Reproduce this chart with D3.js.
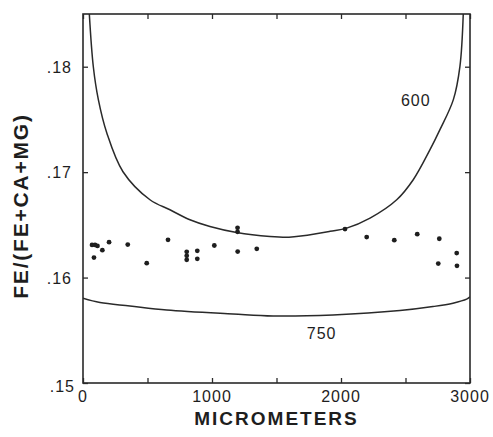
<!DOCTYPE html>
<html>

<head>
    <meta charset="UTF-8">
    <style>
        body { margin: 0; background: #fff; }
        text { font-family: "Liberation Sans", Arial, sans-serif; fill: #1e1e1e; }
    </style>
</head>

<body>
    <div id="my_dataviz"></div>

    <script src="https://d3js.org/d3.v7.min.js"></script>
    <script>
        // measured points (micrometers, FE/(FE+CA+MG))
        const pointX = [70, 93, 112, 150, 85, 202, 347, 494, 659, 804, 804, 804, 886, 886,
            1198, 1198, 1018, 1199, 1347, 2031, 2199, 2413, 2591, 2762, 2897, 2754, 2899];
        const pointY = [.1631, .1631, .1630, .1626, .1619, .16336, .16313, .16137, .16358, .16244, .16206, .16168, .16254, .16178,
            .16472, .16434, .16304, .16247, .16273, .16460, .16384, .16355, .16412, .16368, .16232, .16133, .16111];

        // model curve for 600
        const curve600X = [49, 80, 119, 184, 310, 519, 674, 829, 984, 1191, 1450, 1597, 1705, 1915, 2044, 2225, 2432, 2560, 2690, 2767, 2871, 2922, 2948];
        const curve600Y = [.1850, .1800, .17688, .17374, .17004, .16738, .16643, .16548, .16484, .16427, .16389, .16382, .16396, .16439, .16469, .16564, .16738, .16928, .17213, .17403, .17688, .18004, .1851];

        // model curve for 750
        const curve750X = [0, 132, 364, 649, 1163, 1473, 1938, 2457, 2713, 2868, 2974, 3000];
        const curve750Y = [.15804, .15763, .15731, .15693, .15655, .15636, .15646, .15687, .15725, .15757, .15795, .15817];

        const xTicks = [0, 500, 1000, 1500, 2000, 2500, 3000];
        const xTickLabels = ["0", "", "1000", "", "2000", "", "3000"];
        const yTicks = [.15, .16, .17, .18];
        const yTickLabels = [".15", ".16", ".17", ".18"];

        const margin = { top: 14, right: 23, bottom: 54, left: 83 },
            width = 493 - margin.left - margin.right,
            height = 437 - margin.top - margin.bottom;

        const svg = d3.select("#my_dataviz")
            .append("svg")
            .attr("width", 493)
            .attr("height", 437)
            .append("g")
            .attr("transform", "translate(" + margin.left + "," + margin.top + ")");

        const x = d3.scaleLinear().domain([0, 3000]).range([0, width]);
        const y = d3.scaleLinear().domain([.15, .185]).range([height, 0]);

        const ink = "#2a2a2a";

        svg.append("clipPath").attr("id", "plotclip")
            .append("rect").attr("width", width).attr("height", height);

        // inward ticks on all four sides
        const tickLen = 5;
        svg.append("g").attr("transform", "translate(0," + height + ")")
            .call(d3.axisTop(x).tickValues(xTicks).tickSize(tickLen).tickFormat(""));
        svg.append("g")
            .call(d3.axisBottom(x).tickValues(xTicks).tickSize(tickLen).tickFormat(""));
        svg.append("g")
            .call(d3.axisRight(y).tickValues(yTicks).tickSize(tickLen).tickFormat(""));
        svg.append("g").attr("transform", "translate(" + width + ",0)")
            .call(d3.axisLeft(y).tickValues(yTicks).tickSize(tickLen).tickFormat(""));
        svg.selectAll(".domain").remove();
        svg.selectAll(".tick line").attr("stroke", ink).attr("stroke-width", 1.3);

        // frame
        svg.append("rect")
            .attr("width", width).attr("height", height)
            .attr("fill", "none").attr("stroke", ink).attr("stroke-width", 1.6);

        // tick labels
        svg.selectAll(".xlab")
            .data(xTicks)
            .enter().append("text")
            .attr("x", d => x(d))
            .attr("y", height + 19)
            .attr("text-anchor", "middle")
            .style("font-size", "16px")
            .style("letter-spacing", "1px")
            .text((d, i) => xTickLabels[i]);

        svg.selectAll(".ylab")
            .data(yTicks)
            .enter().append("text")
            .attr("x", (d, i) => i == 0 ? -8 : -11)
            .attr("y", d => y(d) + (d == .15 ? 9 : 6))
            .attr("text-anchor", "end")
            .style("font-size", "16px")
            .style("letter-spacing", "1px")
            .text((d, i) => yTickLabels[i]);

        // axis titles
        svg.append("text")
            .attr("x", width / 2)
            .attr("y", height + 42)
            .attr("text-anchor", "middle")
            .style("font-size", "19px")
            .style("font-weight", "bold")
            .style("letter-spacing", "2px")
            .text("MICROMETERS");

        svg.append("text")
            .attr("transform", "translate(" + (-55) + "," + (206 - margin.top) + ") rotate(-90)")
            .attr("text-anchor", "middle")
            .style("font-size", "21px")
            .style("font-weight", "bold")
            .style("letter-spacing", "1.8px")
            .text("FE/(FE+CA+MG)");

        // curves
        const line = d3.line()
            .x(d => x(d[0]))
            .y(d => y(d[1]))
            .curve(d3.curveCatmullRom.alpha(0.5));

        const curves = [
            { xs: curve600X, ys: curve600Y },
            { xs: curve750X, ys: curve750Y }
        ];

        svg.append("g").attr("clip-path", "url(#plotclip)")
            .selectAll("path")
            .data(curves)
            .enter().append("path")
            .attr("d", c => line(c.xs.map((v, i) => [v, c.ys[i]])))
            .attr("fill", "none")
            .attr("stroke", ink)
            .attr("stroke-width", 1.5);

        // curve labels
        svg.append("text")
            .attr("x", x(2580)).attr("y", y(.1763))
            .attr("text-anchor", "middle")
            .style("font-size", "16px")
            .style("letter-spacing", "1px")
            .text("600");

        svg.append("text")
            .attr("x", x(1850)).attr("y", y(.1542))
            .attr("text-anchor", "middle")
            .style("font-size", "16px")
            .style("letter-spacing", "1px")
            .text("750");

        // data points
        svg.append("g")
            .selectAll("circle")
            .data(pointX)
            .enter().append("circle")
            .attr("cx", d => x(d))
            .attr("cy", (d, i) => y(pointY[i]))
            .attr("r", 2.4)
            .attr("fill", "#1e1e1e");
    </script>
</body>

</html>
